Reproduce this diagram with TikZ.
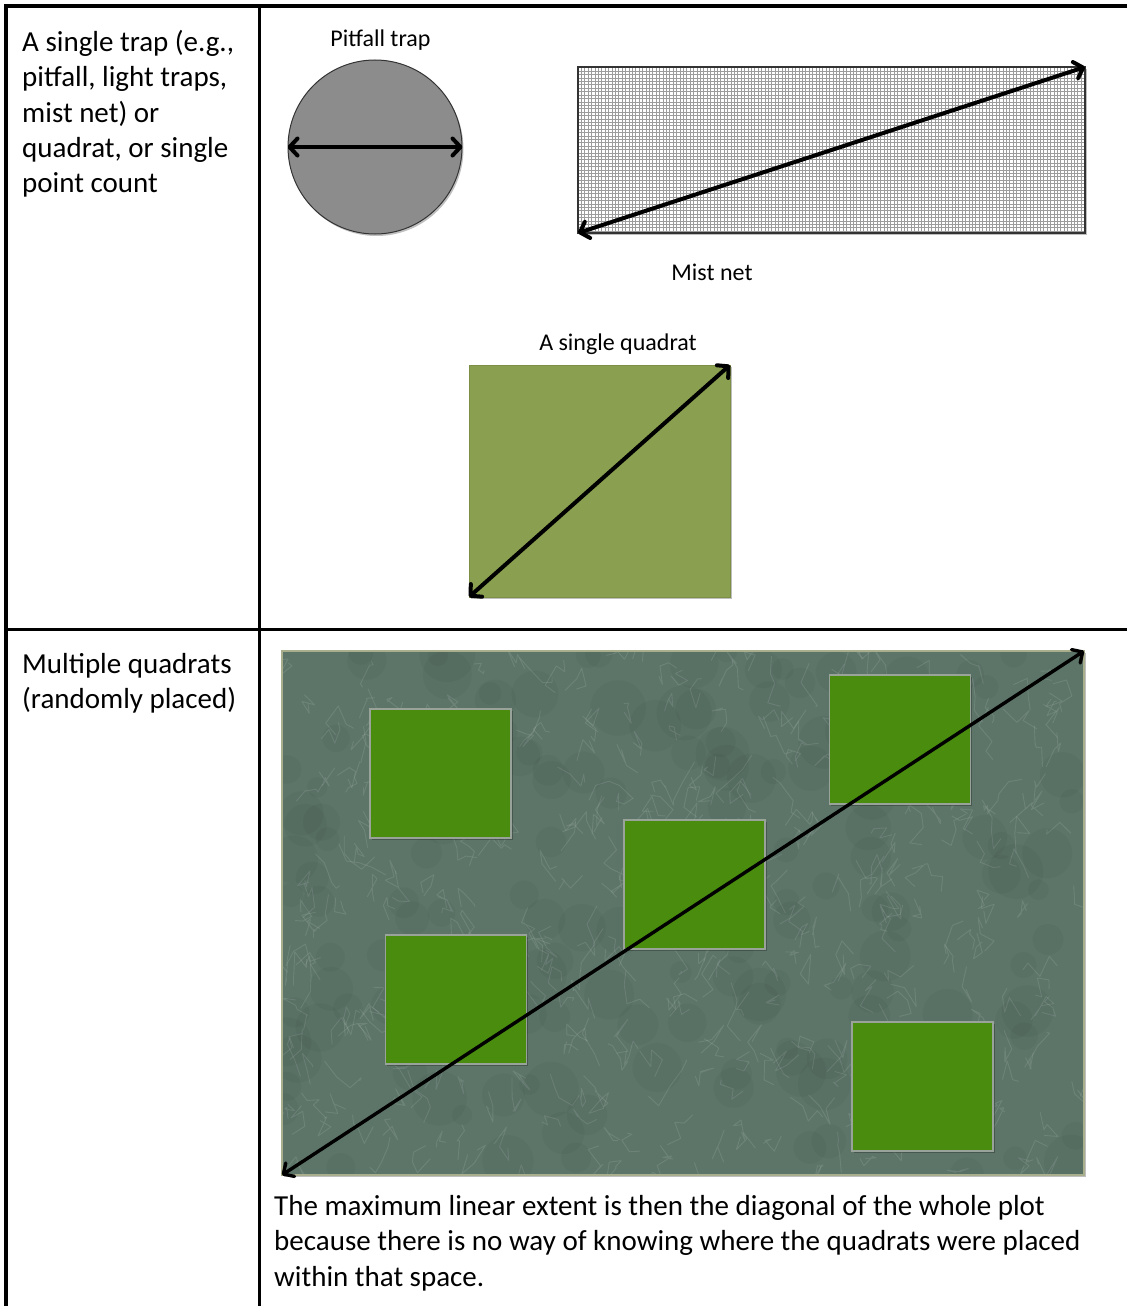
\documentclass[tikz,border=0pt]{standalone}
\usepackage{fontspec}
\setmainfont{Carlito}
\usetikzlibrary{arrows.meta,shadows}
\definecolor{trapgray}{HTML}{8C8C8C}
\definecolor{quadgreen}{HTML}{8A9F4F}
\definecolor{plotbg}{HTML}{5D7569}
\definecolor{plotedge}{HTML}{A9AE8C}
\definecolor{sqgreen}{HTML}{4A8D0E}
\definecolor{sqedge}{HTML}{9AA39A}
\definecolor{netline}{HTML}{9C9C9C}
\tikzset{
  rule/.style={line width=3.5pt, black},
  bodytext/.style={font=\fontsize{29}{35.3}\selectfont, inner sep=0pt, anchor=base west, align=left},
  label/.style={font=\fontsize{24}{28}\selectfont, inner sep=0pt, anchor=base},
  dbl/.style={line width=4pt, line cap=round,
    {Straight Barb[round,length=8pt,width=17pt]}-{Straight Barb[round,length=8pt,width=17pt]}},
  dblthin/.style={line width=3.4pt, line cap=round,
    {Straight Barb[round,length=8pt,width=16pt]}-{Straight Barb[round,length=8pt,width=16pt]}},
  softshadow/.style={drop shadow={shadow xshift=1.5pt, shadow yshift=-2pt, opacity=0.25, fill=black}},
  greensq/.style={draw=sqedge, line width=1.5pt, fill=sqgreen, minimum width=141pt, minimum height=129pt, inner sep=0pt, softshadow},
}
\begin{document}
\begin{tikzpicture}[x=1pt,y=-1pt]
\useasboundingbox[fill=white] (0,0) rectangle (1127,1306);

% table rules
\coordinate (tl) at (6,6);
\coordinate (tr) at (1127,6);
\coordinate (bl) at (6,1306);
\coordinate (dt) at (259.5,6);
\coordinate (db) at (259.5,1306);
\coordinate (ml) at (6,629.5);
\coordinate (mr) at (1127,629.5);
\draw[rule] (tr) -- (tl) -- (bl);
\draw[rule] (dt) -- (db);
\draw[rule] (ml) -- (mr);

% left column texts (anchored at the baseline of the last line)
\node[bodytext] (t1) at (22,192.7) {A single trap (e.g.,\\pitfall, light traps,\\mist net) or\\quadrat, or single\\point count};
\node[bodytext] (t2) at (22,708.3) {Multiple quadrats\\(randomly placed)};

% pitfall trap
\node[label] (lpit) at (380.5,47) {Pitfall trap};
\node[circle, draw=black!80, line width=1pt, fill=trapgray, minimum size=174pt, inner sep=0pt, softshadow] (trap) at (375,147) {};
\draw[dbl] (trap.west) -- (trap.east);

% mist net
\node[draw=none, fill=white, minimum width=507pt, minimum height=166pt, inner sep=0pt, outer sep=0pt, softshadow] (net) at (831.5,150) {};
\draw[netline, line width=1pt, step=3.4pt] (net.south west) grid (net.north east);
\draw[black!80, line width=1.5pt] (net.south west) rectangle (net.north east);
\draw[dbl] (net.south west) -- (net.north east);
\node[label] (lnet) at (712,280) {Mist net};

% single quadrat
\node[label] (lquad) at (618,350) {A single quadrat};
\node[draw=quadgreen!90!black, line width=0.8pt, fill=quadgreen, minimum width=261pt, minimum height=232pt, inner sep=0pt, outer sep=0pt, softshadow] (quad) at (599.5,481) {};
\draw[dbl] (quad.south west) -- (quad.north east);

% multiple quadrats plot
\node[fill=plotbg, minimum width=802pt, minimum height=524pt, inner sep=0pt, outer sep=0pt, softshadow] (plot) at (683,913) {};
\begin{scope}
  \clip (plot.north west) rectangle (plot.south east);
  \pgfmathsetseed{11}
  \foreach \i in {1,...,160}{
    \pgfmathsetmacro{\xa}{282+802*rnd}
    \pgfmathsetmacro{\ya}{651+524*rnd}
    \fill[black, opacity=0.035] (\xa,\ya) circle ({10+18*rnd});
  }
  \foreach \i in {1,...,420}{
    \pgfmathsetmacro{\xa}{282+802*rnd}
    \pgfmathsetmacro{\ya}{651+524*rnd}
    \draw[white, opacity=0.10, line width=0.9pt, line join=round, line cap=round]
      (\xa,\ya) -- ++({14*rand},{20*rand}) -- ++({14*rand},{20*rand}) -- ++({14*rand},{20*rand}) -- ++({14*rand},{20*rand});
  }
\end{scope}
\draw[plotedge, line width=1.2pt] (plot.north west) rectangle (plot.south east);

\node[greensq] (q1) at (440.5,773.5) {};
\node[greensq] (q2) at (900,739.5) {};
\node[greensq] (q3) at (694.5,884.5) {};
\node[greensq] (q4) at (456,999.5) {};
\node[greensq] (q5) at (922.5,1086.5) {};

\draw[dblthin] (plot.south west) -- (plot.north east);

% caption
\node[bodytext] (cap) at (274,1286.1) {The maximum linear extent is then the diagonal of the whole plot\\because there is no way of knowing where the quadrats were placed\\within that space.};
\end{tikzpicture}
\end{document}
